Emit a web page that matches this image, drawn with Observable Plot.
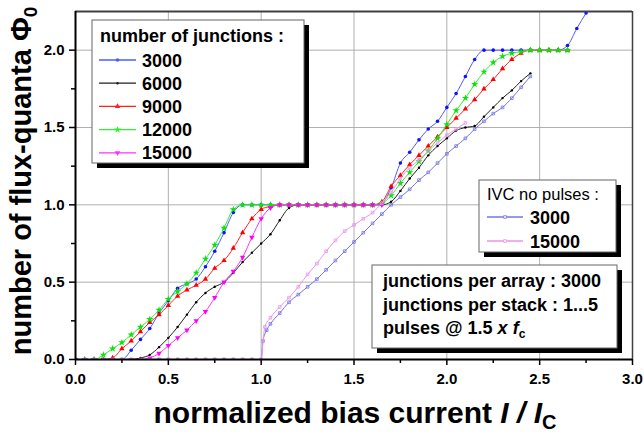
<!DOCTYPE html>
<html><head><meta charset="utf-8">
<script src="https://cdn.jsdelivr.net/npm/d3@7"></script>
<script src="https://cdn.jsdelivr.net/npm/@observablehq/plot@0.6"></script>
<style>
body{margin:0;background:#fff;}
#chart svg{display:block}
</style></head><body><div id="chart"></div>
<script>
// ---- data ----
const grid = [0,0.05,0.1,0.15,0.2,0.25,0.3,0.35,0.4,0.45,0.5,0.55,0.6,0.65,0.7,0.75,0.8,0.85,0.9,0.95,1,1.05,1.1,1.15,1.2,1.25,1.3,1.35,1.4,1.45,1.5,1.55,1.6,1.65,1.7,1.75,1.8,1.85,1.9,1.95,2,2.05,2.1,2.15,2.2,2.25,2.3,2.35,2.4,2.45,2.5,2.55,2.6,2.65,2.7,2.75];
const y3000 = [0,0,0,0,0,0,0.06,0.13,0.20,0.30,0.38,0.46,0.49,0.52,0.60,0.70,0.82,0.95,1,1,1,1,1,1,1,1,1,1,1,1,1,1,1,1.01,1.11,1.27,1.34,1.42,1.49,1.54,1.63,1.72,1.83,1.94,2,2,2,2,2,2,2,2,2,2.03,2.14,2.24];
const y6000 = [0,0,0,0,0,0,0,0.01,0.03,0.08,0.14,0.21,0.29,0.37,0.43,0.47,0.50,0.56,0.63,0.69,0.75,0.81,0.90,0.98,1,1,1,1,1,1,1,1,1,1,1.02,1.09,1.17,1.24,1.32,1.38,1.43,1.48,1.50,1.51,1.57,1.63,1.69,1.74,1.80,1.85];
const y9000 = [0,0,0,0,0.01,0.07,0.12,0.18,0.24,0.29,0.35,0.41,0.45,0.48,0.52,0.59,0.64,0.72,0.82,0.91,0.97,0.99,1,1,1,1,1,1,1,1,1,1,1,1.02,1.12,1.19,1.26,1.32,1.38,1.44,1.50,1.56,1.62,1.68,1.75,1.81,1.88,1.94,1.98,2,2,2,2,2];
const y12000 = [0,0,0,0.03,0.07,0.11,0.16,0.21,0.26,0.32,0.39,0.44,0.49,0.56,0.65,0.74,0.85,0.97,1,1,1,1,1,1,1,1,1,1,1,1,1,1,1,1.01,1.06,1.14,1.21,1.28,1.35,1.43,1.52,1.61,1.69,1.78,1.86,1.92,1.96,1.98,1.99,2,2,2,2,2];
const y15000 = [0,0,0,0,0,0,0,0,0.01,0.04,0.09,0.14,0.19,0.25,0.31,0.40,0.50,0.57,0.66,0.79,0.91,0.98,1,1,1,1,1,1,1,1,1,1,1,1];

const ivcX3000 = [0,0.05,0.1,0.15,0.2,0.25,0.3,0.35,0.4,0.45,0.5,0.55,0.6,0.65,0.7,0.75,0.8,0.85,0.9,0.95,1,1.01,1.03,1.05,1.1,1.15,1.2,1.25,1.3,1.35,1.4,1.45,1.5,1.55,1.6,1.65,1.7,1.75,1.8,1.85,1.9,1.95,2,2.05,2.1,2.15,2.2,2.25,2.3,2.35,2.4,2.45];
const ivcY3000 = [0,0,0,0,0,0,0,0,0,0,0,0,0,0,0,0,0,0,0,0,0,0.12,0.19,0.23,0.30,0.37,0.42,0.47,0.52,0.58,0.64,0.70,0.76,0.82,0.88,0.94,1.0,1.05,1.10,1.16,1.21,1.27,1.33,1.38,1.43,1.49,1.54,1.59,1.63,1.69,1.76,1.83];
const ivcX15000 = [0,0.05,0.1,0.15,0.2,0.25,0.3,0.35,0.4,0.45,0.5,0.55,0.6,0.65,0.7,0.75,0.8,0.85,0.9,0.95,1,1.01,1.02,1.05,1.1,1.15,1.2,1.25,1.3,1.35,1.4,1.45,1.5,1.55,1.6,1.65,1.7,1.75,1.8,1.85,1.9,1.95,2,2.05,2.1];
const ivcY15000 = [0,0,0,0,0,0,0,0,0,0,0,0,0,0,0,0,0,0,0,0,0,0.12,0.21,0.27,0.34,0.40,0.47,0.55,0.62,0.70,0.77,0.83,0.87,0.91,0.95,1.01,1.08,1.17,1.24,1.29,1.35,1.40,1.45,1.49,1.53];

const seriesNames = ["3000","6000","9000","12000","15000"];
const ivcNames = ["3000","15000"];
const xTicks = [0,0.5,1,1.5,2,2.5,3];
const xMinor = [0.25,0.75,1.25,1.75,2.25,2.75];
const yTicks = [0,0.5,1,1.5,2];
const yMinor = [0.25,0.75,1.25,1.75];
const legendTitle = "number of junctions :";
const ivcTitle = "IVC no pulses :";
const infoLines = ["junctions per array : 3000","junctions per stack : 1...5"];

// ---- styling ----
const triangleDown = {draw(ctx, size){const s=Math.sqrt(4*size/Math.sqrt(3)),h=s*Math.sqrt(3)/2;ctx.moveTo(0,2*h/3);ctx.lineTo(-s/2,-h/3);ctx.lineTo(s/2,-h/3);ctx.closePath();}};
const triangleUp = {draw(ctx, size){const s=Math.sqrt(4*size/Math.sqrt(3)),h=s*Math.sqrt(3)/2;ctx.moveTo(0,-2*h/3);ctx.lineTo(-s/2,h/3);ctx.lineTo(s/2,h/3);ctx.closePath();}};
const pulsedYs = [y3000,y6000,y9000,y12000,y15000];
const pulsedStyle = [
  {color:"#1010ff", line:"#4a5cff", symbol:"circle", r:1.8},
  {color:"#000000", line:"#202020", symbol:"circle", r:1.2},
  {color:"#ff0000", line:"#ff2020", symbol:triangleUp, r:2.0},
  {color:"#10e010", line:"#30f030", symbol:"star", r:2.3},
  {color:"#ff00ff", line:"#ff30ff", symbol:triangleDown, r:2.0}
];
const ivcData = [[ivcX3000,ivcY3000],[ivcX15000,ivcY15000]];
const ivcStyle = [{color:"#7474e4"},{color:"#ea94ea"}];
const rows = (xs, ys) => ys.map((y,i)=>({x:xs[i], y}));
const FONT = "'Liberation Sans', Arial, sans-serif";

const marks = [
  Plot.gridX(xTicks.filter(d=>d>0&&d<3), {stroke:"#b0b0b0", strokeOpacity:1, strokeWidth:1}),
  Plot.gridY(yTicks.filter(d=>d>0), {stroke:"#b0b0b0", strokeOpacity:1, strokeWidth:1}),
];
pulsedYs.forEach((ys,i)=>{
  const d = rows(grid, ys), s = pulsedStyle[i];
  marks.push(Plot.line(d, {x:"x", y:"y", stroke:s.line, strokeWidth:1, curve:"monotone-x", clip:true}));
  marks.push(Plot.dot(d, {x:"x", y:"y", symbol:s.symbol, r:s.r, fill:s.color, stroke:"none", clip:true}));
});
ivcData.forEach(([xs,ys],i)=>{
  const d = rows(xs, ys), s = ivcStyle[i];
  marks.push(Plot.line(d, {x:"x", y:"y", stroke:s.color, strokeWidth:1, curve:"monotone-x", clip:true}));
  marks.push(Plot.dot(d, {x:"x", y:"y", symbol:"square", r:1.5, fill:"none", stroke:s.color, strokeWidth:0.8, clip:true}));
});
marks.push(
  Plot.ruleY([2.25], {stroke:"#404040", strokeWidth:2}),
  Plot.ruleX([3], {stroke:"#404040", strokeWidth:1.5}),
  Plot.ruleY([0], {stroke:"#000", strokeWidth:2}),
  Plot.ruleX([0], {stroke:"#000", strokeWidth:2}),
  Plot.axisX(xTicks, {tickSize:6, tickPadding:8, tickFormat:d3.format(".1f"), fontSize:15, fill:"#000", stroke:"#000", strokeWidth:1.5, label:null}),
  Plot.axisX(xMinor, {tickSize:4, text:null, stroke:"#000", strokeWidth:1.5, label:null}),
  Plot.axisY(yTicks, {tickSize:6, tickPadding:5, tickFormat:d3.format(".1f"), fontSize:15, fill:"#000", stroke:"#000", strokeWidth:1.5, label:null}),
  Plot.axisY(yMinor, {tickSize:4, text:null, stroke:"#000", strokeWidth:1.5, label:null})
);

const svg = Plot.plot({
  width:644, height:432,
  marginLeft:75, marginRight:12, marginTop:11, marginBottom:73,
  x:{domain:[0,3]}, y:{domain:[0,2.25]},
  style:{fontFamily:FONT, fontSize:"15px", fontWeight:"bold", background:"#fff", overflow:"visible"},
  marks
});
document.getElementById("chart").appendChild(svg);
d3.select(svg).selectAll('g[aria-label$="tick label"]').attr("font-size",15).attr("font-weight","bold");

// ---- axis titles & legends (overlay in the same SVG) ----
const g = d3.select(svg).append("g").attr("font-family", FONT).attr("fill","#000").attr("text-anchor","start").attr("font-weight","bold");
// y title
const yt = g.append("text").attr("transform","translate(31,181) rotate(-90)").attr("text-anchor","middle")
  .attr("font-size",29);
yt.append("tspan").text("number of flux-quanta Φ");
yt.append("tspan").attr("font-size",19).attr("dy",6).text("0");
// x title
const xt = g.append("text").attr("x",355).attr("y",423).attr("text-anchor","middle").attr("font-size",30);
xt.append("tspan").text("normalized bias current ");
xt.append("tspan").attr("font-style","italic").text("I / I");
xt.append("tspan").attr("font-size",20).attr("dy",6).text("C");

function box(x,y,w,h){
  g.append("rect").attr("x",x+5).attr("y",y+5).attr("width",w).attr("height",h).attr("fill","#000");
  g.append("rect").attr("x",x).attr("y",y).attr("width",w).attr("height",h).attr("fill","#fff").attr("stroke","#666").attr("stroke-width",1);
}
function sample(x0,x1,y,color,symbol,r,open){
  g.append("line").attr("x1",x0).attr("x2",x1).attr("y1",y).attr("y2",y).attr("stroke",color).attr("stroke-width",1.3);
  const sym = typeof symbol==="string" ? ({circle:d3.symbolCircle,star:d3.symbolStar,square:d3.symbolSquare})[symbol] : symbol;
  g.append("path").attr("transform",`translate(${(x0+x1)/2},${y})`).attr("d",d3.symbol().type(sym).size(Math.PI*r*r)())
    .attr("fill",open?"#fff":color).attr("stroke",open?color:"none").attr("stroke-width",0.8);
}
// legend 1
box(92,20,212,143);
g.append("text").attr("x",100).attr("y",42).attr("font-size",18).text(legendTitle);
seriesNames.forEach((n,i)=>{
  const cy = 60 + i*23.2, s = pulsedStyle[i];
  sample(99,136,cy,s.line,s.symbol,s.r,false);
  g.append("text").attr("x",142).attr("y",cy+6.5).attr("font-size",18).text(n);
});
// legend 2
box(479,180,137,72);
g.append("text").attr("x",487).attr("y",200).attr("font-size",16.5).attr("font-weight","normal").text(ivcTitle);
ivcNames.forEach((n,i)=>{
  const cy = 217 + i*24;
  sample(487,523,cy,ivcStyle[i].color,"square",1.5,true);
  g.append("text").attr("x",530).attr("y",cy+6.5).attr("font-size",18).text(n);
});
// legend 3
box(372,265,245,83);
infoLines.forEach((t,i)=>{
  g.append("text").attr("x",383).attr("y",287+i*23.5).attr("font-size",18).text(t);
});
const l3 = g.append("text").attr("x",383).attr("y",334).attr("font-size",18);
l3.append("tspan").text("pulses @ 1.5 ");
l3.append("tspan").attr("font-style","italic").text("x");
l3.append("tspan").text(" ");
l3.append("tspan").attr("font-style","italic").text("f");
l3.append("tspan").attr("font-size",12).attr("dy",4).text("c");
</script></body></html>
